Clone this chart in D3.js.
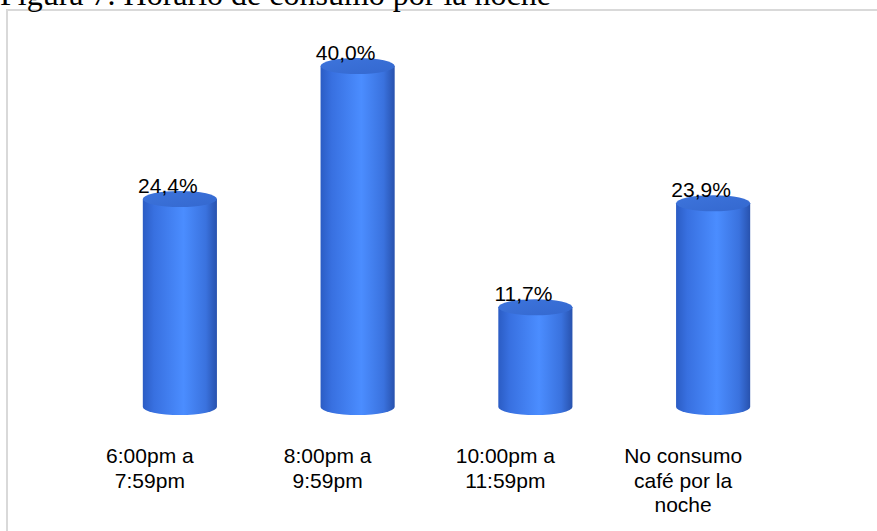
<!DOCTYPE html>
<html>
<head>
<meta charset="utf-8">
<script src="https://cdn.jsdelivr.net/npm/d3@7"></script>
<style>
    body { margin: 0; background: #fff; }
    svg { display: block; }
</style>
</head>
<body>
<svg width="877" height="531"></svg>
<script>
const width = 877;
const height = 531;

const title = "Figura 7. Horario de consumo por la noche";
const categories = ["6:00pm a 7:59pm", "8:00pm a 9:59pm", "10:00pm a 11:59pm", "No consumo café por la noche"];
const categoryLines = [
    ["6:00pm a", "7:59pm"],
    ["8:00pm a", "9:59pm"],
    ["10:00pm a", "11:59pm"],
    ["No consumo", "café por la", "noche"],
];
const values = [24.4, 40.0, 11.7, 23.9];

const svg = d3.select("svg");

// marco gris del gráfico (sale por la derecha y abajo)
svg.append("rect")
    .attr("x", 7)
    .attr("y", 10)
    .attr("width", 900)
    .attr("height", 560)
    .attr("fill", "#fff")
    .attr("stroke", "#d9d9d9")
    .attr("stroke-width", 2);

// título, cortado arriba como en la captura
svg.append("text")
    .attr("x", 0)
    .attr("y", 5)
    .attr("font-family", "Liberation Serif, Times New Roman, serif")
    .attr("font-size", 32)
    .attr("fill", "#000")
    .text(title);

const x = d3.scaleBand()
    .domain(categories)
    .range([91, 802])
    .paddingInner(0.583)
    .paddingOuter(0.2915);

const y = d3.scaleLinear().domain([0, 40]).range([407, 66]);

const ry = 8;
const locale = d3.formatLocale({ decimal: ",", thousands: ".", grouping: [3], currency: ["", ""] });
const fmt = locale.format(".1f");

// gradientes del cilindro
const defs = svg.append("defs");
const bodyGrad = defs.append("linearGradient").attr("id", "bodyGrad")
    .attr("x1", "0%").attr("x2", "100%").attr("y1", "0%").attr("y2", "0%");
bodyGrad.append("stop").attr("offset", "0%").attr("stop-color", "#2b5cc4");
bodyGrad.append("stop").attr("offset", "15%").attr("stop-color", "#3870e0");
bodyGrad.append("stop").attr("offset", "55%").attr("stop-color", "#4b8dff");
bodyGrad.append("stop").attr("offset", "85%").attr("stop-color", "#3a72de");
bodyGrad.append("stop").attr("offset", "100%").attr("stop-color", "#2852ae");

const capGrad = defs.append("linearGradient").attr("id", "capGrad")
    .attr("x1", "0%").attr("x2", "100%").attr("y1", "0%").attr("y2", "100%");
capGrad.append("stop").attr("offset", "0%").attr("stop-color", "#3d74dc");
capGrad.append("stop").attr("offset", "100%").attr("stop-color", "#3468cf");

const data = categories.map((c, i) => ({ cat: c, value: values[i], lines: categoryLines[i] }));

const bars = svg.append("g").selectAll("g.bar")
    .data(data)
    .join("g")
    .attr("class", "bar");

// cuerpo del cilindro
bars.append("path")
    .attr("fill", "url(#bodyGrad)")
    .attr("d", (d) => {
        const x0 = x(d.cat);
        const x1 = x0 + x.bandwidth();
        const rx = x.bandwidth() / 2;
        const yt = y(d.value);
        const yb = y(0);
        return `M${x0},${yt} L${x0},${yb} A${rx},${ry} 0 0 0 ${x1},${yb} L${x1},${yt} Z`;
    });

// tapa superior
bars.append("ellipse")
    .attr("cx", (d) => x(d.cat) + x.bandwidth() / 2)
    .attr("cy", (d) => y(d.value))
    .attr("rx", x.bandwidth() / 2)
    .attr("ry", ry)
    .attr("fill", "url(#capGrad)");

// etiquetas de valor
bars.append("text")
    .attr("x", (d) => x(d.cat) + x.bandwidth() / 2 - 12)
    .attr("y", (d) => y(d.value) - 6)
    .attr("text-anchor", "middle")
    .attr("font-family", "Liberation Sans, Arial, sans-serif")
    .attr("font-size", 21)
    .attr("fill", "#000")
    .text((d) => fmt(d.value) + "%");

// etiquetas de categoría
const catText = bars.append("text")
    .attr("text-anchor", "middle")
    .attr("font-family", "Liberation Sans, Arial, sans-serif")
    .attr("font-size", 21)
    .attr("fill", "#000");

catText.selectAll("tspan")
    .data((d) => d.lines.map((l) => ({ line: l, cx: x(d.cat) + x.bandwidth() / 2 - 30 })))
    .join("tspan")
    .attr("x", (t) => t.cx)
    .attr("y", (t, i) => 463 + i * 24.7)
    .text((t) => t.line);
</script>
</body>
</html>
